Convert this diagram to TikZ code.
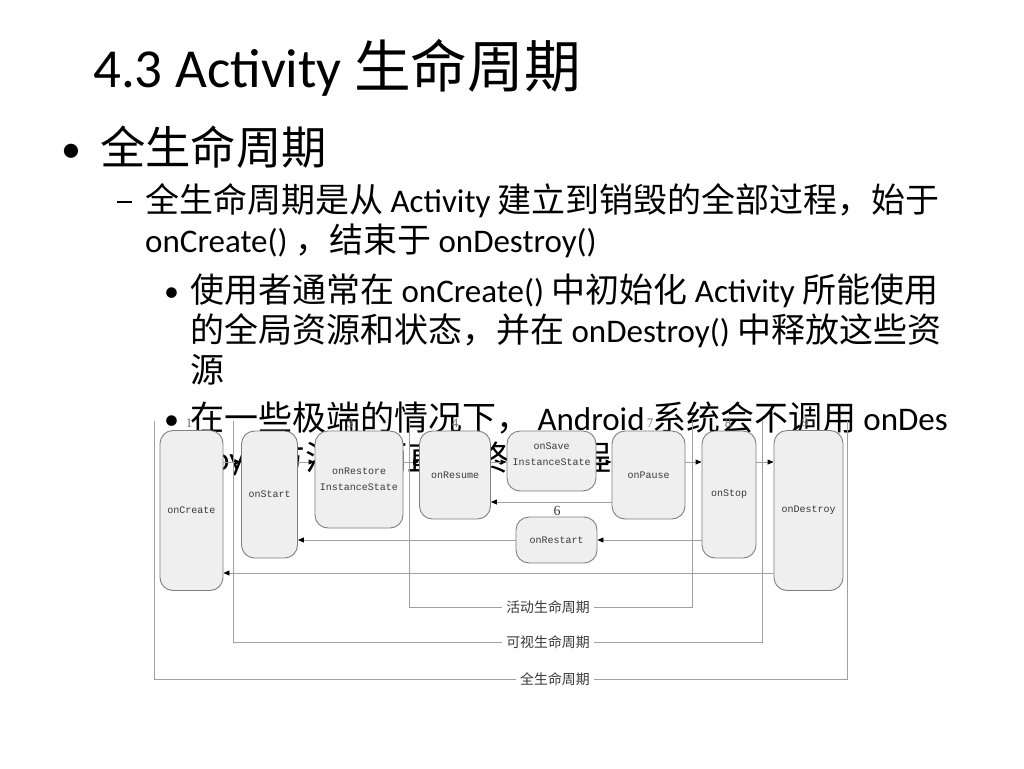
\documentclass[tikz,border=0pt]{standalone}
\usepackage{fontspec}
\setmainfont{Carlito}
\newfontfamily\cjk[Scale=1.03]{Noto Sans CJK SC}
\newfontfamily\mono{Liberation Mono}
\newfontfamily\numfont{Liberation Serif}
\usetikzlibrary{arrows.meta}
\newcommand\zh[1]{{\cjk #1}}
\definecolor{boxline}{HTML}{7F7F7F}
\definecolor{boxfill}{HTML}{EFEFEF}
\definecolor{wire}{HTML}{A0A0A0}
\definecolor{labeltext}{HTML}{3A3A3A}
\definecolor{numgray}{HTML}{707070}

\begin{document}
\begin{tikzpicture}[x=1pt,y=-1pt,
  txt/.style={anchor=base west, inner sep=0pt, text=black},
  box/.style={draw=boxline, fill=boxfill, rounded corners=13pt, line width=0.9pt,
    font=\mono\fontsize{10}{16}\selectfont, text=labeltext, align=center, inner sep=0pt},
  flow/.style={draw=wire, line width=0.9pt, -{Triangle[length=6pt,width=5pt,color=black]}},
  bracket/.style={draw=wire, line width=0.8pt},
  span/.style={font=\cjk\fontsize{13.5}{16}\selectfont, text=labeltext, inner sep=4pt},
  stepno/.style={font=\numfont\fontsize{13}{13}\selectfont, text=numgray, inner sep=0pt}
]
\fill[white] (0,0) rectangle (1024,768);
\useasboundingbox (0,0) rectangle (1024,768);

% ---- slide text ----
\node[txt, font=\fontsize{55}{64}\selectfont] (title) at (93,87) {4.3 Activity \zh{生命周期}};

\node[txt, font=\fontsize{40}{54}\selectfont] (bul1) at (61,162) {•};
\node[txt, font=\fontsize{44}{54}\selectfont] (lvl1) at (100,164) {\zh{全生命周期}};

\node[txt, font=\fontsize{33}{40}\selectfont] (dash) at (117,212) {\rule[9pt]{15pt}{2.2pt}};
\node[txt, font=\fontsize{33}{40}\selectfont] (l2a) at (145,212)
  {\zh{全生命周期是从} Activity \zh{建立到销毁的全部过程，始于}};
\node[txt, font=\fontsize{33}{40}\selectfont] (l2b) at (145,252)
  {onCreate() \zh{，结束于} onDestroy()};

\node[txt, font=\fontsize{30}{40}\selectfont] (bul2) at (164,301) {•};
\node[txt, font=\fontsize{33}{40}\selectfont] (l3a) at (190,302)
  {\zh{使用者通常在} onCreate() \zh{中初始化} Activity \zh{所能使用}};
\node[txt, font=\fontsize{33}{40}\selectfont] (l3b) at (190,342)
  {\zh{的全局资源和状态，并在} onDestroy() \zh{中释放这些资}};
\node[txt, font=\fontsize{33}{40}\selectfont] (l3c) at (190,382) {\zh{源}};

\node[txt, font=\fontsize{30}{40}\selectfont] (bul3) at (164,429) {•};
\node[txt, font=\fontsize{33}{40}\selectfont] (l4a) at (190,430)
  {\zh{在一些极端的情况下，} Android \zh{系统会不调用} onDes};
\node[txt, font=\fontsize{33}{40}\selectfont] (l4b) at (190,470)
  {troy() \zh{方法，而直接终止进程}};

% ---- lifetime brackets ----
\node[span] (active) at (548,607) {活动生命周期};
\node[span] (visible) at (548,642) {可视生命周期};
\node[span] (entire) at (555,679) {全生命周期};

\draw[bracket] (409,421) -- (409,607) -- (active.west);
\draw[bracket] (active.east) -- (692,607) -- (692,421);
\draw[bracket] (233,421) -- (233,642) -- (visible.west);
\draw[bracket] (visible.east) -- (762,642) -- (762,421);
\draw[bracket] (154,421) -- (154,679) -- (entire.west);
\draw[bracket] (entire.east) -- (847,679) -- (847,421);

% ---- rows of the connectors ----
\coordinate (fwd) at (0,462);
\coordinate (back) at (0,502);
\coordinate (restartrow) at (0,540);
\coordinate (endrow) at (0,573);

% ---- callback boxes ----
\node[box, minimum width=63pt, minimum height=160pt] (create) at (191.5,510.5) {onCreate};
\node[box, minimum width=56pt, minimum height=127pt] (start) at (269.5,494.5) {onStart};
\node[box, minimum width=88pt, minimum height=97pt] (restore) at (359,479.5) {onRestore\\InstanceState};
\node[box, minimum width=71pt, minimum height=88pt] (resume) at (455,475) {onResume};
\node[box, minimum width=89pt, minimum height=60pt] (save) at (551.5,461) {};
\node[font=\mono\fontsize{10}{16}\selectfont, text=labeltext, align=center, inner sep=0pt] (savetext) at (551.5,454) {onSave\\InstanceState};
\node[box, minimum width=73pt, minimum height=88pt] (pause) at (648.5,475) {onPause};
\node[box, minimum width=54pt, minimum height=127pt] (stop) at (729,494.5) {onStop};
\node[box, minimum width=69pt, minimum height=160pt] (destroy) at (808.5,510.5) {onDestroy};
\node[box, minimum width=81pt, minimum height=46pt] (restart) at (556.5,540) {onRestart};

% ---- forward chain ----
\draw[flow] (create.east |- fwd) -- (start.west |- fwd);
\draw[flow] (start.east |- fwd) -- (restore.west |- fwd);
\draw[flow] (restore.east |- fwd) -- (resume.west |- fwd);
\draw[flow] (resume.east |- fwd) -- (save.west |- fwd);
\draw[flow] (save.east |- fwd) -- (pause.west |- fwd);
\draw[flow] (pause.east |- fwd) -- (stop.west |- fwd);
\draw[flow] (stop.east |- fwd) -- (destroy.west |- fwd);

% ---- return paths ----
\draw[flow] (pause.west |- back) -- (resume.east |- back);
\draw[flow] (stop.west |- restartrow) -- (restart.east);
\draw[flow] (restart.west) -- (start.east |- restartrow);
\draw[flow] (destroy.west |- endrow) -- (create.east |- endrow);

% ---- step numbers ----
\node[stepno] (n1) at (189,423) {1};
\node[stepno] (n3) at (350,423) {3};
\node[stepno] (n4) at (455,423) {4};
\node[stepno] (n7) at (650,423) {7};
\node[stepno] (n8) at (728,423) {8};
\node[stepno] (n9) at (805,422) {9};
\node[stepno, font=\numfont\fontsize{14}{14}\selectfont, text=labeltext] (n6) at (557,511) {6};
\end{tikzpicture}
\end{document}
